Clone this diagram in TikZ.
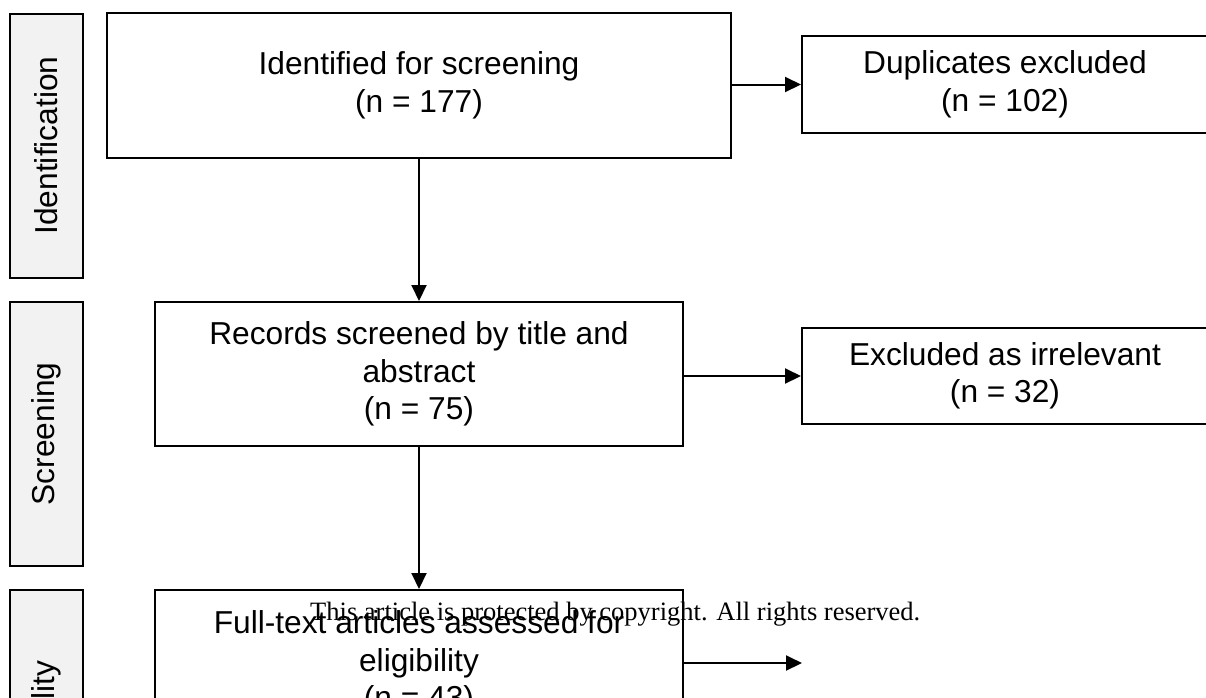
\documentclass[tikz,border=0pt]{standalone}
\usepackage{fontspec}
\setmainfont{Liberation Sans}
\newfontfamily\wmfont{Liberation Serif}
\usetikzlibrary{arrows.meta}
\definecolor{sidegray}{HTML}{F2F2F2}
\tikzset{
  box/.style={draw=black, line width=2pt, fill=white, align=center, inner sep=0pt,
    font=\fontsize{31.7}{37.5}\selectfont},
  sidebox/.style={draw=black, line width=2pt, fill=sidegray, inner sep=0pt,
    minimum width=73pt, minimum height=264pt},
  sidelabel/.style={rotate=90, font=\fontsize{31.7}{37.5}\selectfont, inner sep=0pt},
  conn/.style={line width=2pt, -{Triangle[length=16pt,width=15pt]}},
}
\begin{document}
\begin{tikzpicture}[x=1pt,y=-1pt]
\useasboundingbox (0,0) rectangle (1206,697);
\clip (0,0) rectangle (1206,697);
\fill[white] (0,0) rectangle (1206,697);
% side boxes
\node[sidebox] (sid) at (46.5,145.5) {};
\node[sidelabel] (lid) at (sid.center) {Identification};
\node[sidebox] (sscr) at (46.5,434) {};
\node[sidelabel] (lscr) at (sscr.center) {Screening};
\node[sidebox] (seli) at (46.5,722) {};
\node[sidelabel] (leli) at (seli.center) {Eligibility};
% main boxes
\node[box, minimum width=624pt, minimum height=145pt] (b1) at (419,85.5) {Identified for screening\\(n = 177)};
\node[box, minimum width=406pt, minimum height=97pt] (dup) at (1005,84.5) {Duplicates excluded\\(n = 102)};
\node[box, minimum width=528pt, minimum height=144pt] (b2) at (419,374) {Records screened by title and\\abstract\\(n = 75)};
\node[box, minimum width=406pt, minimum height=96pt] (exc) at (1005,376) {Excluded as irrelevant\\(n = 32)};
\node[box, minimum width=528pt, minimum height=146pt] (b3) at (419,663) {Full-text articles assessed for\\eligibility\\(n = 43)};
\coordinate (e3) at (802,663);
% connectors
\draw[conn] (b1.east |- dup.west) -- (dup.west);
\draw[conn] (b1.south) -- (b2.north);
\draw[conn] (b2.east |- exc.west) -- (exc.west);
\draw[conn] (b2.south) -- (b3.north);
\draw[conn] (b3.east |- e3) -- (e3);
% watermark
\node[anchor=base west, inner sep=0pt, font=\wmfont\fontsize{26.5}{30}\selectfont] (wm) at (310,620.5) {This article is protected by copyright. All rights reserved.};
\end{tikzpicture}
\end{document}
